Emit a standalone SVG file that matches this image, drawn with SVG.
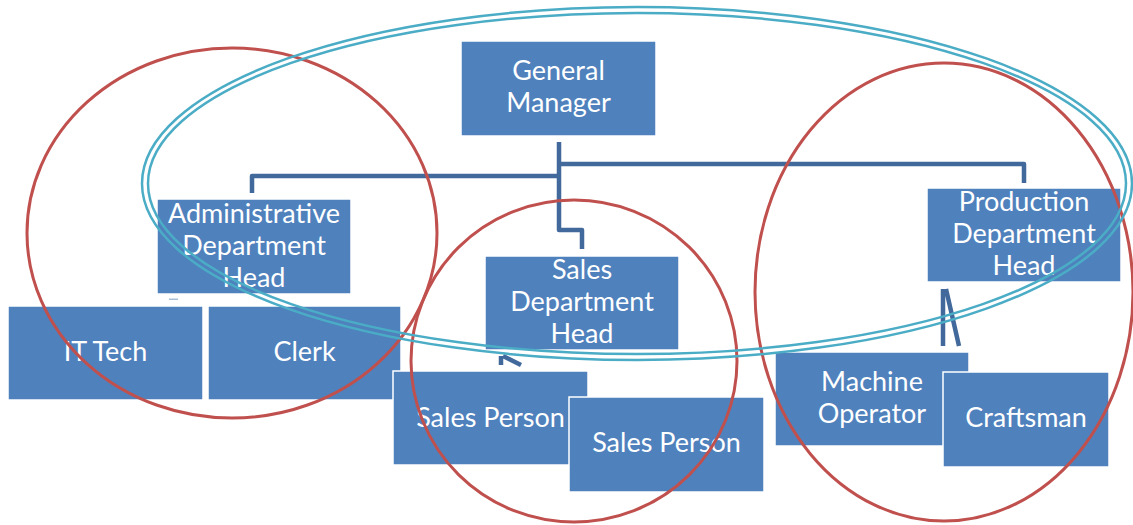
<svg xmlns="http://www.w3.org/2000/svg" width="1133" height="525" viewBox="0 0 1133 525">
<style>
.box{fill:#4f81bd;stroke:#ffffff;stroke-width:1.5}
.t{font-family:Lato,"Liberation Sans",sans-serif;font-size:27px;fill:#ffffff;text-anchor:middle}
.c{fill:none;stroke:#41699b;stroke-width:4.5;stroke-linejoin:round}
.red{fill:none;stroke:#c0504d;stroke-width:3}
.blue{fill:none;stroke:#4bacc6;stroke-width:2.5}
</style>
<rect width="1133" height="525" fill="#ffffff"/>
<g id="connectors">
<path class="c" d="M559 142 V230 H582 V249"/>
<path class="c" d="M559 176 H252 V193"/>
<path class="c" d="M559 164 H1024 V183"/>
<path class="c" d="M501 365 V356 M503 356 L521 365"/>
<path class="c" d="M943 346 V289 M946 289 L959 346"/>
<rect x="169" y="298.5" width="9" height="1.5" fill="#a9bfd9"/>
</g>
<g id="general-manager">
<rect class="box" x="461" y="41" width="195" height="95"/>
<text class="t" x="558.5" y="80">General</text>
<text class="t" x="558.5" y="112">Manager</text>
</g>
<g id="admin-head">
<rect class="box" x="157" y="199" width="194" height="95"/>
<text class="t" x="254" y="223">Administrative</text>
<text class="t" x="254" y="255">Department</text>
<text class="t" x="254" y="287">Head</text>
</g>
<g id="sales-head">
<rect class="box" x="485" y="256" width="194" height="94"/>
<text class="t" x="582" y="279">Sales</text>
<text class="t" x="582" y="311">Department</text>
<text class="t" x="582" y="343">Head</text>
</g>
<g id="production-head">
<rect class="box" x="927" y="188" width="194" height="94"/>
<text class="t" x="1024" y="211">Production</text>
<text class="t" x="1024" y="243">Department</text>
<text class="t" x="1024" y="275">Head</text>
</g>
<g id="it-tech">
<rect class="box" x="8" y="306" width="195" height="94"/>
<text class="t" x="105.5" y="361">IT Tech</text>
</g>
<g id="clerk">
<rect class="box" x="208" y="306" width="193" height="94"/>
<text class="t" x="304.5" y="361">Clerk</text>
</g>
<g id="sales-person-1">
<rect class="box" x="393" y="371" width="195" height="94"/>
<text class="t" x="490.5" y="427">Sales Person</text>
</g>
<g id="sales-person-2">
<rect class="box" x="569" y="397" width="195" height="95"/>
<text class="t" x="666.5" y="452">Sales Person</text>
</g>
<g id="machine-operator">
<rect class="box" x="775" y="352" width="194" height="94"/>
<text class="t" x="872" y="391">Machine</text>
<text class="t" x="872" y="423">Operator</text>
</g>
<g id="craftsman">
<rect class="box" x="943" y="372" width="166" height="95"/>
<text class="t" x="1026" y="427">Craftsman</text>
</g>
<g id="groupings">
<ellipse class="red" cx="232" cy="233" rx="205" ry="185"/>
<ellipse class="red" cx="574" cy="361" rx="163" ry="161"/>
<ellipse class="red" cx="944" cy="292" rx="189" ry="229"/>
<ellipse class="blue" cx="637" cy="183.5" rx="495" ry="176.5"/>
<ellipse class="blue" cx="637" cy="183.5" rx="489" ry="170.5"/>
</g>
</svg>
